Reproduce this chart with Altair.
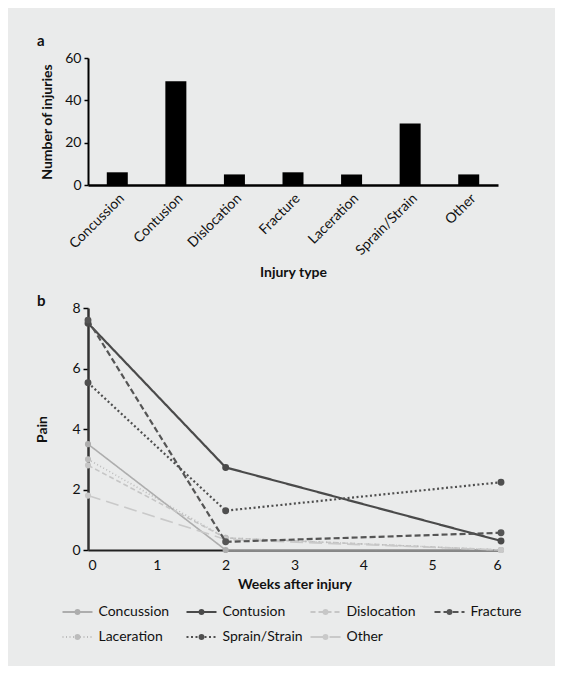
import altair as alt
import pandas as pd

# ---------------- data ----------------
injury_types = ["Concussion", "Contusion", "Dislocation", "Fracture",
                "Laceration", "Sprain/Strain", "Other"]
injury_counts = [6, 49, 5, 6, 5, 29, 5]

weeks = [0, 2, 6]
pain_concussion = [3.5, 0.0, 0.0]
pain_contusion = [7.5, 2.73, 0.3]
pain_dislocation = [2.8, 0.4, 0.0]
pain_fracture = [7.6, 0.27, 0.57]
pain_laceration = [3.0, 0.4, 0.0]
pain_sprain = [5.53, 1.3, 2.24]
pain_other = [1.8, 0.35, 0.0]

pain_series = [pain_concussion, pain_contusion, pain_dislocation, pain_fracture,
               pain_laceration, pain_sprain, pain_other]
dark_series = ["Contusion", "Fracture", "Sprain/Strain"]

# ---------------- styles ----------------
series_colors = ["#adadad", "#4a4a4a", "#c6c6c6", "#555555", "#bcbcbc", "#4f4f4f", "#c9c9c9"]
series_dashes = [[1, 0], [1, 0], [5, 3], [6, 3], [1, 2.5], [2, 2.5], [13, 6]]

FONT = "Lato"
BG = "#eaebeb"

bar_df = pd.DataFrame({"type": injury_types, "count": injury_counts})

rows = []
for name, vals in zip(injury_types, pain_series):
    for w, v in zip(weeks, vals):
        rows.append({"series": name, "week": w, "pain": v,
                     "group": "dark" if name in dark_series else "light"})
pain_df = pd.DataFrame(rows)

color_scale = alt.Scale(domain=injury_types, range=series_colors)
dash_scale = alt.Scale(domain=injury_types, range=series_dashes)

# ---------------- panel a ----------------
bars = alt.Chart(bar_df).mark_bar(color="black", size=21).encode(
    x=alt.X("type:N", sort=injury_types,
            scale=alt.Scale(paddingInner=0.64, paddingOuter=0.32),
            axis=alt.Axis(title="Injury type", labelAngle=-45, ticks=False, tickSize=0,
                          labelPadding=6, titlePadding=8, domainColor="black",
                          domainWidth=2.5, labelFontSize=14, titleFontSize=14,
                          titleFontWeight="bold", labelFont=FONT, titleFont=FONT,
                          labelColor="#111", titleColor="#111")),
    y=alt.Y("count:Q", scale=alt.Scale(domain=[0, 60]),
            axis=alt.Axis(title="Number of injuries", values=[0, 20, 40, 60],
                          grid=False, tickSize=4, tickWidth=1.5, tickColor="black",
                          domainColor="black", domainWidth=2, labelFontSize=14,
                          titleFontSize=14, titleFontWeight="bold", labelPadding=3,
                          titlePadding=10, labelFont=FONT, titleFont=FONT,
                          labelColor="#111", titleColor="#111")),
).properties(
    width=410, height=127,
    title=alt.Title("a", anchor="start", frame="group", dx=-51, offset=2, fontSize=15,
                    fontWeight="bold", font=FONT, color="#111"),
)

# ---------------- panel b ----------------
xb = alt.X("week:Q", scale=alt.Scale(domain=[0, 6], nice=False),
           axis=alt.Axis(title="Weeks after injury", values=[0, 1, 2, 3, 4, 5, 6],
                         grid=False, ticks=False, tickSize=0, labelPadding=8,
                         titlePadding=5, domainColor="#222", domainWidth=2,
                         labelFontSize=14, titleFontSize=14, titleFontWeight="bold",
                         labelFont=FONT, titleFont=FONT, labelColor="#111",
                         titleColor="#111"))
yb = alt.Y("pain:Q", scale=alt.Scale(domain=[0, 8], nice=False),
           axis=alt.Axis(title="Pain", values=[0, 2, 4, 6, 8], grid=False, tickSize=5,
                         tickWidth=1.5, tickColor="black", domainColor="#333",
                         domainWidth=2.5, labelFontSize=14, titleFontSize=14,
                         titleFontWeight="bold", labelPadding=3, titlePadding=22,
                         labelFont=FONT, titleFont=FONT, labelColor="#111",
                         titleColor="#111"))
col_enc = alt.Color("series:N", scale=color_scale, legend=None)
dash_enc = alt.StrokeDash("series:N", scale=dash_scale, legend=None)

light = pain_df[pain_df["group"] == "light"]
dark = pain_df[pain_df["group"] == "dark"]

light_lines = alt.Chart(light).mark_line(strokeWidth=1.6).encode(
    x=xb, y=yb, color=col_enc, strokeDash=dash_enc, detail="series:N")
light_pts = alt.Chart(light).mark_circle(size=38, opacity=1).encode(
    x=xb, y=yb, color=col_enc)
dark_lines = alt.Chart(dark).mark_line(strokeWidth=2.2).encode(
    x=xb, y=yb, color=col_enc, strokeDash=dash_enc, detail="series:N")
dark_pts = alt.Chart(dark).mark_circle(size=48, opacity=1).encode(
    x=xb, y=yb, color=col_enc)

panel_b = alt.layer(light_lines, light_pts, dark_lines, dark_pts).properties(
    width=413, height=242,
    title=alt.Title("b", anchor="start", frame="group", dx=-51, dy=8, offset=0,
                    fontSize=15, fontWeight="bold", font=FONT, color="#111"),
)

# ---------------- legend ----------------
leg_df = pd.DataFrame({"series": injury_types})
leg_df["col"] = [i % 4 for i in range(len(injury_types))]
leg_df["row"] = [i // 4 for i in range(len(injury_types))]

lx = alt.Scale(domain=[0, 4], range=[-25.5, 470.5])
ly = alt.Scale(domain=[0, 1], range=[0, 25])

leg_base = alt.Chart(leg_df).transform_calculate(
    x0="datum.col", x1="datum.col + 0.242", xm="datum.col + 0.121",
    xt="datum.col + 0.29")

leg_lines = leg_base.mark_rule(strokeWidth=2).encode(
    x=alt.X("x0:Q", scale=lx, axis=None), x2="x1:Q",
    y=alt.Y("row:Q", scale=ly, axis=None),
    color=col_enc, strokeDash=dash_enc)
leg_pts = leg_base.mark_circle(size=34, opacity=1).encode(
    x=alt.X("xm:Q", scale=lx, axis=None),
    y=alt.Y("row:Q", scale=ly, axis=None), color=col_enc)
leg_text = leg_base.mark_text(align="left", baseline="middle", fontSize=14,
                              font=FONT, color="#111").encode(
    x=alt.X("xt:Q", scale=lx, axis=None),
    y=alt.Y("row:Q", scale=ly, axis=None), text="series:N")

legend = alt.layer(leg_lines, leg_pts, leg_text).properties(width=413, height=25)

lower = alt.vconcat(panel_b, legend, spacing=14)

chart = alt.vconcat(bars, lower, spacing=14).properties(
    background=BG,
    padding={"left": 27, "top": 26, "right": 33, "bottom": 22},
).configure_view(strokeWidth=0)

chart.save("out.html", embed_options={"renderer": "svg", "actions": False})
